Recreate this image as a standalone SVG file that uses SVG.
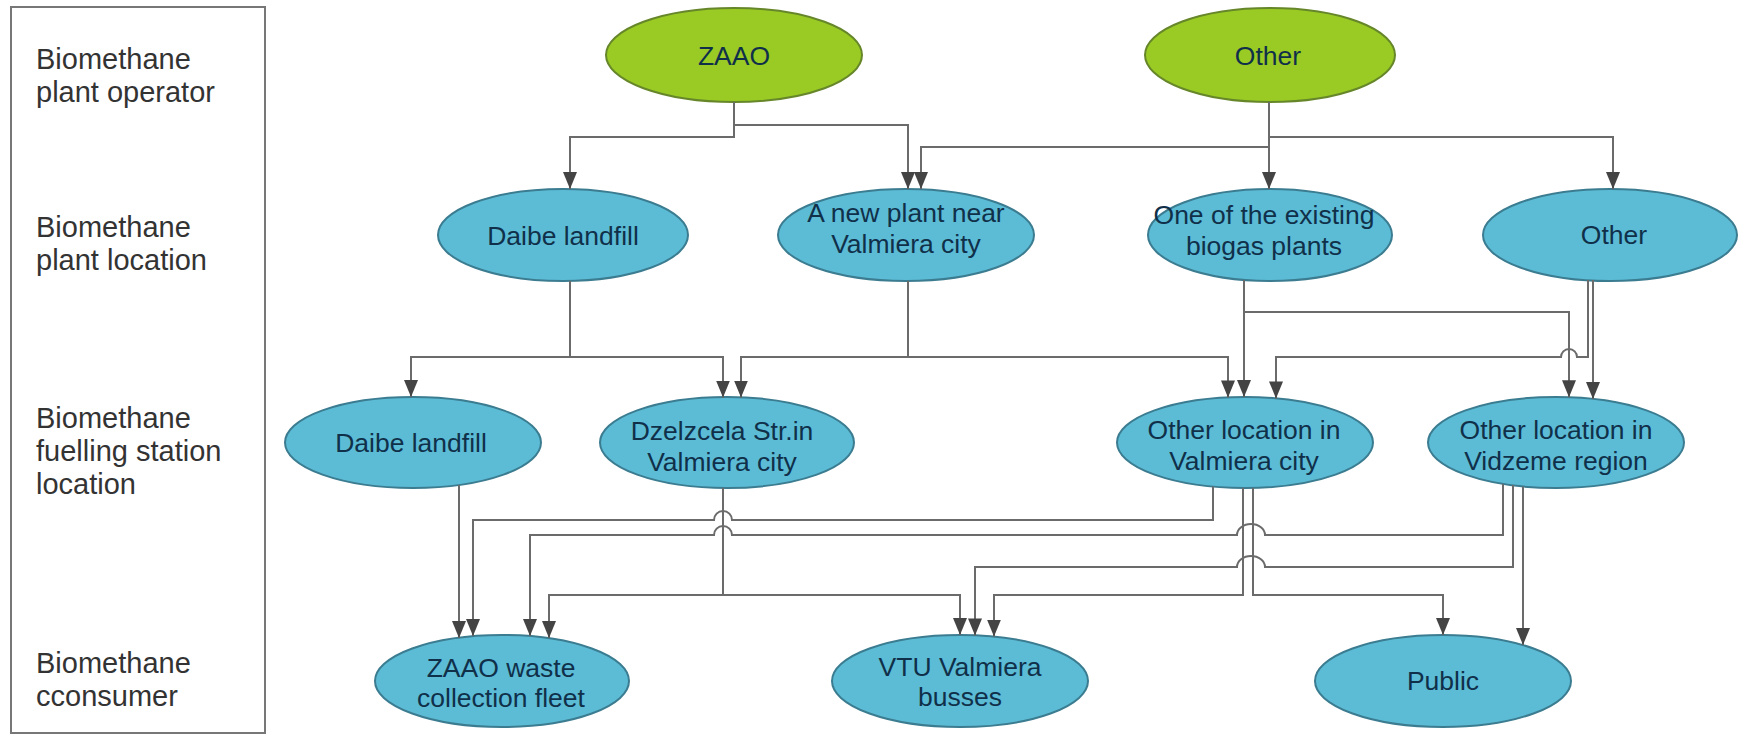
<svg xmlns="http://www.w3.org/2000/svg" width="1748" height="735" viewBox="0 0 1748 735">
<style>
.lbl{font-family:"Liberation Sans",Arial,sans-serif;font-size:29px;fill:#333}
.nt{font-family:"Liberation Sans",Arial,sans-serif;font-size:26.5px;fill:#10304a;text-anchor:middle}
.blue{fill:#5cbcd6;stroke:#3b7c90;stroke-width:2}
.green{fill:#9acb24;stroke:#66862a;stroke-width:2}
.c{fill:none;stroke:#6b6b6b;stroke-width:2;marker-end:url(#ah)}
</style>
<defs>
<marker id="ah" markerUnits="userSpaceOnUse" markerWidth="18" markerHeight="14" refX="17" refY="7" orient="auto">
<path d="M0,0 L17,7 L0,14 z" fill="#444"/>
</marker>
</defs>
<rect width="1748" height="735" fill="#fff"/>
<g id="labels">
<rect x="11" y="7" width="254" height="726" fill="none" stroke="#777" stroke-width="2"/>
<text class="lbl" x="36" y="69">Biomethane</text>
<text class="lbl" x="36" y="102">plant operator</text>
<text class="lbl" x="36" y="237">Biomethane</text>
<text class="lbl" x="36" y="270">plant location</text>
<text class="lbl" x="36" y="428">Biomethane</text>
<text class="lbl" x="36" y="461">fuelling station</text>
<text class="lbl" x="36" y="494">location</text>
<text class="lbl" x="36" y="673">Biomethane</text>
<text class="lbl" x="36" y="706">cconsumer</text>
</g>
<g id="n-zaao"><ellipse class="green" cx="734" cy="55" rx="128" ry="47"/><text class="nt" x="734" y="65">ZAAO</text></g>
<g id="n-other-op"><ellipse class="green" cx="1270" cy="55" rx="125" ry="47"/><text class="nt" x="1268" y="65">Other</text></g>
<g id="n-daibe-plant"><ellipse class="blue" cx="563" cy="235" rx="125" ry="46"/><text class="nt" x="563" y="245">Daibe landfill</text></g>
<g id="n-new-plant"><ellipse class="blue" cx="906" cy="235" rx="128" ry="46"/><text class="nt" x="906" y="222">A new plant near</text><text class="nt" x="906" y="253">Valmiera city</text></g>
<g id="n-existing"><ellipse class="blue" cx="1270" cy="235" rx="122" ry="46"/><text class="nt" x="1264" y="224">One of the existing</text><text class="nt" x="1264" y="255">biogas plants</text></g>
<g id="n-other-plant"><ellipse class="blue" cx="1610" cy="235" rx="127" ry="46"/><text class="nt" x="1614" y="244">Other</text></g>
<g id="n-daibe-st"><ellipse class="blue" cx="413" cy="442.5" rx="128" ry="45.5"/><text class="nt" x="411" y="452">Daibe landfill</text></g>
<g id="n-dzelzcela"><ellipse class="blue" cx="727" cy="442.5" rx="127" ry="45.5"/><text class="nt" x="722" y="440">Dzelzcela Str.in</text><text class="nt" x="722" y="471">Valmiera city</text></g>
<g id="n-valmiera-st"><ellipse class="blue" cx="1245" cy="442.5" rx="128" ry="45.5"/><text class="nt" x="1244" y="439">Other location in</text><text class="nt" x="1244" y="470">Valmiera city</text></g>
<g id="n-vidzeme-st"><ellipse class="blue" cx="1556" cy="442.5" rx="128" ry="45.5"/><text class="nt" x="1556" y="439">Other location in</text><text class="nt" x="1556" y="470">Vidzeme region</text></g>
<g id="n-zaao-fleet"><ellipse class="blue" cx="502" cy="681" rx="127" ry="46"/><text class="nt" x="501" y="677">ZAAO waste</text><text class="nt" x="501" y="707">collection fleet</text></g>
<g id="n-vtu"><ellipse class="blue" cx="960" cy="681" rx="128" ry="46"/><text class="nt" x="960" y="676">VTU Valmiera</text><text class="nt" x="960" y="706">busses</text></g>
<g id="n-public"><ellipse class="blue" cx="1443" cy="681" rx="128" ry="46"/><text class="nt" x="1443" y="690">Public</text></g>
<g id="connectors">
<path class="c" d="M734,102 V137 H570 V189"/>
<path class="c" d="M734,125 H908 V189"/>
<path class="c" d="M1269,102 V189"/>
<path class="c" d="M1269,137 H1613 V189"/>
<path class="c" d="M1269,147 H921 V189"/>
<path class="c" d="M570,281 V357 H411 V397"/>
<path class="c" d="M570,357 H723 V397.5"/>
<path class="c" d="M908,281 V357 H741 V397.5"/>
<path class="c" d="M908,357 H1228 V397.4"/>
<path class="c" d="M1244,280 V397"/>
<path class="c" d="M1244,312 H1569 V397.2"/>
<path class="c" d="M1593,280 V399"/>
<path class="c" d="M1588,280 V357 H1577 A8,8 0 0 0 1561,357 H1276 V398.4"/>
<path class="c" d="M459,485 V638"/>
<path class="c" d="M1213,486.5 V520 H732 A9,9 0 0 0 714,520 H473 V636"/>
<path class="c" d="M1503,484 V535 H1265 A14,11 0 0 0 1237,535 H732 A9,9 0 0 0 714,535 H530 V636"/>
<path class="c" d="M723,488 V595 H549 V638"/>
<path class="c" d="M723,595 H960 V635"/>
<path class="c" d="M1243,488 V595 H994 V636.6"/>
<path class="c" d="M1253,488 V595 H1443 V635"/>
<path class="c" d="M1513,485 V567 H1265 A14,11 0 0 0 1237,567 H975 V635.4"/>
<path class="c" d="M1523,486.5 V645"/>
</g>
</svg>
